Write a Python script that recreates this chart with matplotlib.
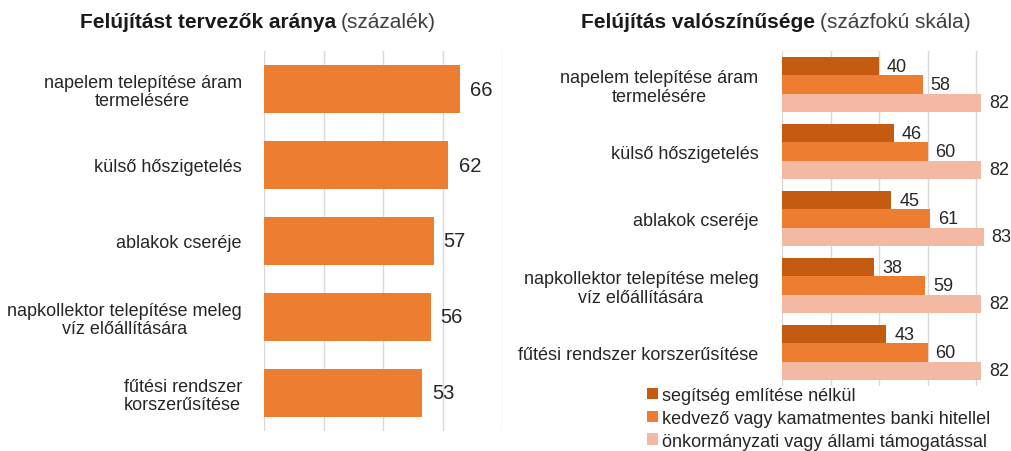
import matplotlib
matplotlib.use("Agg")
import matplotlib.pyplot as plt
import numpy as np

plt.rcParams['font.family'] = ['Liberation Sans', 'DejaVu Sans']

# ---- data ----
left_categories = ["napelem telepítése áram\ntermelésére",
                   "külső hőszigetelés",
                   "ablakok cseréje",
                   "napkollektor telepítése meleg\nvíz előállítására",
                   "fűtési rendszer\nkorszerűsítése"]
left_values = [66, 62, 57, 56, 53]

right_categories = ["napelem telepítése áram\ntermelésére",
                    "külső hőszigetelés",
                    "ablakok cseréje",
                    "napkollektor telepítése meleg\nvíz előállítására",
                    "fűtési rendszer korszerűsítése"]
series_names = ["segítség említése nélkül",
                "kedvező vagy kamatmentes banki hitellel",
                "önkormányzati vagy állami támogatással"]
no_help = [40, 46, 45, 38, 43]
bank_loan = [58, 60, 61, 59, 60]
state_support = [82, 82, 83, 82, 82]

# ---- style ----
TXT = "#262626"
GRID = "#D9D9D9"
ORANGE = "#ED7D31"
DARK = "#C55A11"
LIGHT = "#F4B9A2"
LBL = 13

W, H = 1011, 452
fig = plt.figure(figsize=(W / 100, H / 100), dpi=100)

def fx(px):
    return px / W

def fy(py):
    return 1 - py / H

# ---- left panel ----
axL = fig.add_axes([fx(264), fy(432), fx(502 - 264), (432 - 52) / H])
yL = np.arange(len(left_categories))
axL.barh(yL, left_values, height=0.62, color=ORANGE, zorder=3)
axL.set_xlim(0, 80)
axL.set_ylim(len(left_categories) - 0.5, -0.5)
axL.set_xticks([0, 20, 40, 60, 80])
axL.xaxis.grid(True, color=GRID, linewidth=1, zorder=0)
axL.tick_params(axis='x', length=0, labelbottom=False)
axL.tick_params(axis='y', length=0, pad=16)
axL.set_yticks(yL)
axL.set_yticklabels(left_categories, fontsize=LBL, color=TXT,
                    multialignment='center', linespacing=1.1)
for s in axL.spines.values():
    s.set_visible(False)
for y, v in zip(yL, left_values):
    axL.text(v + 3.4, y, f"{v}", va='center', ha='left', fontsize=14.5, color=TXT)

# ---- right panel ----
axR = fig.add_axes([fx(782), fy(387), fx(1008 - 782), (387 - 52) / H])
yR = np.arange(len(right_categories))
bh = 0.276
series = [no_help, bank_loan, state_support]
colors = [DARK, ORANGE, LIGHT]
offsets = [-bh, 0, bh]
for vals, col, off, name in zip(series, colors, offsets, series_names):
    axR.barh(yR + off, vals, height=bh, color=col, zorder=3, label=name)
    for y, v in zip(yR, vals):
        axR.text(v + 3.2, y + off, f"{v}", va='center', ha='left', fontsize=13, color=TXT)
axR.set_xlim(0, 93)
axR.set_ylim(len(right_categories) - 0.5, -0.5)
axR.set_xticks([0, 20, 40, 60, 80])
axR.xaxis.grid(True, color=GRID, linewidth=1, zorder=0)
axR.tick_params(axis='x', length=0, labelbottom=False)
axR.tick_params(axis='y', length=0, pad=17)
axR.set_yticks(yR)
axR.set_yticklabels(right_categories, fontsize=LBL, color=TXT,
                    multialignment='center', linespacing=1.1)
for s in axR.spines.values():
    s.set_visible(False)

leg = axR.legend(loc='upper left', bbox_to_anchor=(fx(647), fy(388)),
                 bbox_transform=fig.transFigure, frameon=False,
                 fontsize=LBL, handlelength=0.6, handleheight=0.6,
                 handletextpad=0.25, labelspacing=0.32, borderpad=0,
                 borderaxespad=0)
for t in leg.get_texts():
    t.set_color(TXT)

# ---- titles ----
fig.text(fx(336), fy(22), "Felújítást tervezők aránya", ha='right', va='center',
         fontsize=15, fontweight='bold', color="#1a1a1a")
fig.text(fx(341), fy(22), "(százalék)", ha='left', va='center',
         fontsize=15, color="#404040")
fig.text(fx(815), fy(22), "Felújítás valószínűsége", ha='right', va='center',
         fontsize=15, fontweight='bold', color="#1a1a1a")
fig.text(fx(820), fy(22), "(százfokú skála)", ha='left', va='center',
         fontsize=15, color="#404040")

fig.savefig("out.png", dpi=100, facecolor='white')
